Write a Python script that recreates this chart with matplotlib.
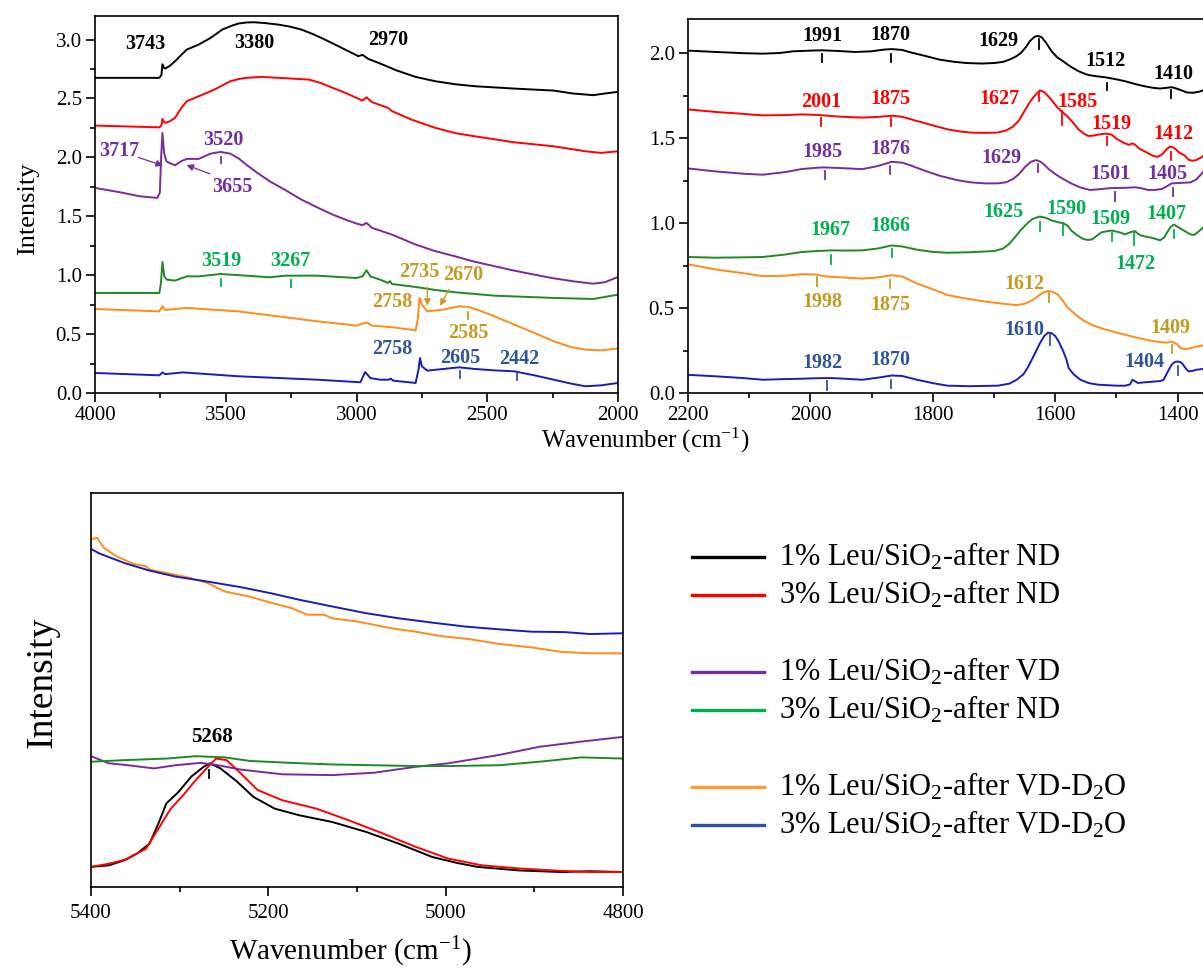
import matplotlib
matplotlib.use("Agg")
import matplotlib.pyplot as plt
from matplotlib.lines import Line2D
from matplotlib.ticker import MultipleLocator

plt.rcParams["font.family"] = ["Liberation Serif", "DejaVu Serif"]
plt.rcParams["mathtext.fontset"] = "custom"
plt.rcParams["mathtext.rm"] = "Liberation Serif"
plt.rcParams["mathtext.it"] = "Liberation Serif:italic"
plt.rcParams["mathtext.bf"] = "Liberation Serif:bold"

# ---------------------------------------------------------------- data
labels = [
    "1% Leu/SiO$_2$-after ND",
    "3% Leu/SiO$_2$-after ND",
    "1% Leu/SiO$_2$-after VD",
    "3% Leu/SiO$_2$-after ND",
    "1% Leu/SiO$_2$-after VD-D$_2$O",
    "3% Leu/SiO$_2$-after VD-D$_2$O",
]
line_colors = ["#000000", "#FF0000", "#7B2A9E", "#1E8B22", "#FF8C1A", "#1C1CB8"]
legend_colors = ["#000000", "#FF0000", "#7030A0", "#00B050", "#FF9A30", "#2E54A0"]
text_colors = ["#000000", "#FF0000", "#7030A0", "#00B050", "#C49A1E", "#2F5597"]

# high wavenumber region (4000-2000 cm-1)
hi_x = [
    [4000, 3754, 3746, 3742, 3736, 3732, 3715, 3694, 3670, 3649, 3603, 3558, 3513, 3480,
     3452, 3420, 3392, 3350, 3302, 3255, 3211, 3165, 3121, 3075, 3030, 2993, 2977, 2955,
     2910, 2849, 2774, 2698, 2620, 2548, 2397, 2246, 2171, 2095, 2050, 2000],
    [4000, 3754, 3746, 3742, 3736, 3732, 3715, 3694, 3670, 3649, 3603, 3543, 3483, 3450,
     3422, 3362, 3272, 3181, 3135, 3091, 3045, 3000, 2977, 2962, 2940, 2879, 2864, 2789,
     2698, 2620, 2548, 2397, 2246, 2125, 2065, 2000],
    [4000, 3905, 3830, 3762, 3752, 3747, 3742, 3736, 3727, 3716, 3694, 3671, 3649, 3603,
     3558, 3520, 3483, 3450, 3422, 3380, 3332, 3270, 3211, 3150, 3091, 3040, 3000, 2977,
     2962, 2940, 2864, 2774, 2700, 2623, 2550, 2472, 2400, 2321, 2250, 2171, 2095, 2050,
     2000],
    [4000, 3754, 3748, 3742, 3735, 3725, 3694, 3649, 3603, 3520, 3422, 3332, 3272, 3151,
     3000, 2977, 2962, 2947, 2910, 2879, 2872, 2864, 2774, 2700, 2623, 2472, 2246, 2095,
     2000],
    [4000, 3754, 3742, 3732, 3649, 3452, 3302, 3151, 3000, 2962, 2940, 2864, 2774, 2766,
     2759, 2750, 2729, 2668, 2608, 2570, 2530, 2472, 2397, 2320, 2246, 2180, 2125, 2065,
     2000],
    [4000, 3754, 3742, 3732, 3664, 3452, 3151, 2985, 2967, 2947, 2910, 2876, 2869, 2860,
     2774, 2763, 2757, 2750, 2729, 2668, 2608, 2548, 2472, 2397, 2320, 2246, 2180, 2125,
     2065, 2000],
]
hi_y = [
    [2.675, 2.675, 2.70, 2.79, 2.76, 2.754, 2.775, 2.816, 2.87, 2.915, 2.958, 3.014, 3.085,
     3.115, 3.136, 3.145, 3.147, 3.14, 3.128, 3.11, 3.085, 3.045, 3.0, 2.95, 2.90, 2.859,
     2.87, 2.836, 2.797, 2.74, 2.683, 2.646, 2.62, 2.604, 2.584, 2.567, 2.542, 2.528, 2.542,
     2.556],
    [2.27, 2.255, 2.27, 2.327, 2.30, 2.293, 2.305, 2.335, 2.42, 2.477, 2.519, 2.576, 2.646,
     2.665, 2.675, 2.683, 2.672, 2.66, 2.63, 2.59, 2.55, 2.505, 2.482, 2.51, 2.468, 2.42,
     2.392, 2.32, 2.25, 2.205, 2.179, 2.128, 2.094, 2.052, 2.038, 2.052],
    [1.741, 1.704, 1.67, 1.656, 1.70, 2.01, 2.208, 2.04, 1.967, 1.953, 1.933, 1.967, 1.987,
     1.987, 2.032, 2.046, 2.032, 1.99, 1.939, 1.87, 1.797, 1.72, 1.642, 1.575, 1.514, 1.47,
     1.438, 1.424, 1.444, 1.401, 1.344, 1.26, 1.205, 1.16, 1.115, 1.076, 1.04, 1.005, 0.975,
     0.948, 0.928, 0.94, 0.985],
    [0.849, 0.849, 0.93, 1.112, 0.99, 0.962, 0.954, 0.99, 0.99, 1.01, 0.996, 0.982, 0.996,
     0.996, 0.976, 0.99, 1.042, 0.99, 0.962, 0.934, 0.95, 0.925, 0.9, 0.875, 0.855, 0.826,
     0.807, 0.798, 0.835],
    [0.713, 0.693, 0.736, 0.705, 0.722, 0.693, 0.651, 0.609, 0.572, 0.6, 0.572, 0.558, 0.532,
     0.623, 0.807, 0.75, 0.693, 0.708, 0.736, 0.73, 0.70, 0.651, 0.58, 0.51, 0.439, 0.39,
     0.368, 0.362, 0.379],
    [0.17, 0.15, 0.175, 0.16, 0.175, 0.142, 0.113, 0.091, 0.178, 0.127, 0.113, 0.113, 0.122,
     0.105, 0.085, 0.198, 0.297, 0.226, 0.19, 0.204, 0.218, 0.204, 0.192, 0.184, 0.15,
     0.113, 0.08, 0.057, 0.065, 0.085],
]

# mid region (2200-1357 cm-1)
mid_x = [
    [2200, 2154, 2110, 2078, 2050, 2028, 2000, 1981, 1955, 1927, 1900, 1880, 1867, 1850,
     1839, 1815, 1789, 1765, 1745, 1720, 1700, 1685, 1675, 1665, 1656, 1648, 1641, 1634,
     1628, 1622, 1615, 1606, 1597, 1587, 1575, 1562, 1550, 1543, 1530, 1518, 1500, 1486,
     1470, 1455, 1440, 1429, 1418, 1410, 1403, 1395, 1385, 1375, 1365, 1355],
    [2200, 2154, 2110, 2078, 2040, 2015, 1990, 1978, 1950, 1915, 1890, 1867, 1850, 1826,
     1800, 1776, 1755, 1738, 1715, 1694, 1680, 1670, 1660, 1650, 1640, 1632, 1625, 1618,
     1610, 1602, 1596, 1588, 1581, 1572, 1562, 1553, 1546, 1538, 1530, 1518, 1508, 1499,
     1490, 1480, 1474, 1470, 1465, 1461, 1448, 1440, 1433, 1425, 1418, 1412, 1405, 1398,
     1389, 1382, 1376, 1370, 1362, 1355],
    [2200, 2154, 2110, 2078, 2040, 2015, 1990, 1978, 1950, 1915, 1890, 1867, 1850, 1839,
     1815, 1789, 1760, 1738, 1715, 1694, 1680, 1669, 1660, 1650, 1640, 1631, 1625, 1619,
     1610, 1600, 1590, 1574, 1560, 1543, 1524, 1510, 1499, 1485, 1470, 1460, 1448, 1436,
     1426, 1418, 1410, 1395, 1379, 1370, 1362, 1355],
    [2200, 2154, 2110, 2078, 2040, 2015, 1990, 1965, 1940, 1915, 1890, 1867, 1850, 1826,
     1800, 1776, 1740, 1700, 1685, 1675, 1665, 1656, 1645, 1637, 1625, 1615, 1606, 1596,
     1587, 1580, 1574, 1565, 1555, 1547, 1540, 1532, 1524, 1508, 1495, 1486, 1478, 1470,
     1466, 1461, 1450, 1442, 1435, 1429, 1422, 1417, 1412, 1406, 1399, 1392, 1385, 1379,
     1373, 1367, 1361, 1355],
    [2200, 2154, 2110, 2078, 2040, 2015, 1990, 1978, 1950, 1915, 1890, 1867, 1850, 1826,
     1800, 1776, 1745, 1713, 1685, 1663, 1650, 1637, 1628, 1620, 1612, 1605, 1596, 1588,
     1581, 1568, 1555, 1540, 1524, 1500, 1474, 1448, 1430, 1418, 1410, 1402, 1395, 1387,
     1379, 1367, 1355],
    [2200, 2154, 2110, 2078, 2040, 2015, 1990, 1965, 1940, 1915, 1890, 1867, 1850, 1826,
     1800, 1776, 1740, 1694, 1675, 1663, 1652, 1644, 1635, 1625, 1618, 1612, 1606, 1600,
     1594, 1588, 1582, 1578, 1570, 1559, 1545, 1530, 1500, 1486, 1478, 1474, 1470, 1465,
     1450, 1436, 1429, 1423, 1417, 1410, 1405, 1401, 1396, 1392, 1387, 1382, 1376, 1369,
     1362, 1355],
]
mid_y = [
    [2.014, 2.006, 1.999, 1.996, 2.0, 2.01, 2.014, 2.016, 2.012, 2.006, 2.01, 2.02, 2.023,
     2.018, 2.006, 1.985, 1.961, 1.948, 1.941, 1.938, 1.941, 1.948, 1.961, 1.978, 2.0,
     2.035, 2.072, 2.095, 2.101, 2.092, 2.06, 2.01, 1.975, 1.951, 1.92, 1.893, 1.875, 1.869,
     1.862, 1.857, 1.845, 1.834, 1.818, 1.805, 1.795, 1.791, 1.795, 1.799, 1.792, 1.782,
     1.768, 1.766, 1.772, 1.785],
    [1.668, 1.653, 1.642, 1.633, 1.635, 1.639, 1.636, 1.633, 1.625, 1.62, 1.624, 1.631,
     1.625, 1.6, 1.574, 1.551, 1.538, 1.532, 1.53, 1.532, 1.545, 1.565, 1.6, 1.66, 1.72,
     1.755, 1.78, 1.77, 1.74, 1.705, 1.678, 1.652, 1.629, 1.595, 1.551, 1.525, 1.512,
     1.514, 1.52, 1.526, 1.52, 1.493, 1.475, 1.46, 1.468, 1.462, 1.445, 1.434, 1.41, 1.395,
     1.389, 1.405, 1.435, 1.45, 1.44, 1.415, 1.398, 1.372, 1.366, 1.37, 1.385, 1.401],
    [1.321, 1.303, 1.29, 1.284, 1.3, 1.317, 1.325, 1.327, 1.323, 1.317, 1.335, 1.36, 1.355,
     1.342, 1.31, 1.278, 1.252, 1.239, 1.233, 1.233, 1.24, 1.259, 1.285, 1.327, 1.36, 1.37,
     1.362, 1.346, 1.315, 1.288, 1.265, 1.233, 1.21, 1.194, 1.2, 1.205, 1.206, 1.207, 1.21,
     1.205, 1.194, 1.195, 1.2, 1.215, 1.233, 1.236, 1.239, 1.255, 1.285, 1.317],
    [0.8, 0.796, 0.798, 0.8, 0.815, 0.829, 0.835, 0.839, 0.838, 0.839, 0.85, 0.868, 0.862,
     0.843, 0.83, 0.825, 0.828, 0.835, 0.85, 0.878, 0.92, 0.96, 1.0, 1.024, 1.038, 1.03,
     1.015, 1.005, 0.999, 0.985, 0.956, 0.93, 0.907, 0.9, 0.903, 0.925, 0.946, 0.956, 0.945,
     0.933, 0.945, 0.953, 0.94, 0.928, 0.918, 0.913, 0.905, 0.898, 0.915, 0.946, 0.975,
     0.991, 0.975, 0.96, 0.945, 0.933, 0.93, 0.946, 0.965, 0.985],
    [0.757, 0.726, 0.705, 0.687, 0.69, 0.699, 0.697, 0.687, 0.68, 0.673, 0.68, 0.693, 0.685,
     0.644, 0.61, 0.576, 0.555, 0.537, 0.525, 0.517, 0.525, 0.546, 0.57, 0.59, 0.6, 0.597,
     0.58, 0.545, 0.507, 0.465, 0.429, 0.4, 0.38, 0.355, 0.332, 0.31, 0.3, 0.296, 0.302,
     0.29, 0.263, 0.258, 0.263, 0.275, 0.283],
    [0.107, 0.098, 0.088, 0.078, 0.082, 0.084, 0.087, 0.088, 0.083, 0.078, 0.09, 0.103, 0.1,
     0.078, 0.058, 0.043, 0.04, 0.043, 0.055, 0.078, 0.11, 0.156, 0.22, 0.293, 0.335, 0.355,
     0.352, 0.335, 0.3, 0.254, 0.2, 0.146, 0.11, 0.078, 0.058, 0.049, 0.043, 0.043, 0.05,
     0.078, 0.07, 0.059, 0.064, 0.068, 0.07, 0.078, 0.12, 0.166, 0.182, 0.185, 0.183,
     0.171, 0.145, 0.127, 0.13, 0.137, 0.14, 0.146],
]

# NIR region (5400-4800 cm-1), arbitrary intensity
nir_x = [
    [5400, 5380, 5362, 5348, 5334, 5324, 5315, 5301, 5287, 5273, 5266, 5254, 5235, 5217,
     5193, 5165, 5128, 5090, 5053, 5015, 4987, 4964, 4917, 4870, 4837, 4800],
    [5400, 5380, 5362, 5338, 5324, 5310, 5296, 5282, 5268, 5259, 5247, 5231, 5212, 5184,
     5146, 5109, 5071, 5034, 4997, 4959, 4917, 4870, 4837, 4800],
    [5400, 5380, 5362, 5329, 5305, 5277, 5259, 5231, 5184, 5128, 5081, 5034, 4997, 4940,
     4894, 4847, 4800],
    [5400, 5362, 5315, 5282, 5249, 5221, 5174, 5128, 5081, 5034, 4997, 4940, 4894, 4847,
     4800],
    [5400, 5393, 5385, 5371, 5352, 5338, 5334, 5315, 5291, 5268, 5249, 5221, 5198, 5174,
     5156, 5137, 5128, 5100, 5062, 5034, 5006, 4973, 4940, 4903, 4870, 4837, 4800],
    [5400, 5390, 5362, 5334, 5305, 5268, 5231, 5198, 5165, 5128, 5090, 5053, 5015, 4978,
     4940, 4903, 4866, 4837, 4800],
]
nir_y = [
    [0.051, 0.055, 0.068, 0.085, 0.11, 0.161, 0.212, 0.242, 0.28, 0.305, 0.314, 0.301,
     0.267, 0.229, 0.199, 0.182, 0.165, 0.14, 0.11, 0.076, 0.061, 0.051, 0.042, 0.038,
     0.040, 0.038],
    [0.051, 0.059, 0.069, 0.097, 0.148, 0.199, 0.233, 0.271, 0.305, 0.326, 0.322, 0.288,
     0.246, 0.22, 0.199, 0.169, 0.136, 0.102, 0.072, 0.055, 0.047, 0.041, 0.038, 0.038],
    [0.332, 0.314, 0.31, 0.301, 0.309, 0.315, 0.31, 0.298, 0.286, 0.284, 0.29, 0.305,
     0.314, 0.335, 0.356, 0.369, 0.381],
    [0.318, 0.322, 0.326, 0.332, 0.329, 0.32, 0.315, 0.311, 0.309, 0.307, 0.307, 0.309,
     0.318, 0.329, 0.326],
    [0.883, 0.886, 0.86, 0.839, 0.82, 0.814, 0.806, 0.797, 0.786, 0.771, 0.75, 0.737,
     0.722, 0.708, 0.691, 0.691, 0.682, 0.674, 0.657, 0.648, 0.637, 0.629, 0.617, 0.608,
     0.597, 0.593, 0.593],
    [0.858, 0.846, 0.822, 0.803, 0.788, 0.775, 0.761, 0.746, 0.729, 0.712, 0.695, 0.682,
     0.671, 0.661, 0.654, 0.648, 0.647, 0.642, 0.644],
]

# peak labels: (text, x_text, y_text, x_tick, tick_lo, tick_hi, series index)
hi_peaks = [
    ("3743", 3807, 2.96, None, None, None, 0),
    ("3380", 3392, 2.97, None, None, None, 0),
    ("2970", 2879, 3.0, None, None, None, 0),
    ("3717", 3908, 2.05, None, None, None, 2),
    ("3520", 3510, 2.15, 3517, 1.95, 2.00, 2),
    ("3655", 3475, 1.75, None, None, None, 2),
    ("3519", 3517, 1.12, 3517, 0.91, 0.97, 3),
    ("3267", 3252, 1.12, 3250, 0.90, 0.96, 3),
    ("2735", 2759, 1.03, None, None, None, 4),
    ("2670", 2593, 1.005, None, None, None, 4),
    ("2758", 2864, 0.77, None, None, None, 4),
    ("2585", 2573, 0.51, 2573, 0.625, 0.69, 4),
    ("2758", 2864, 0.37, None, None, None, 5),
    ("2605", 2605, 0.30, 2605, 0.13, 0.19, 5),
    ("2442", 2377, 0.285, 2386, 0.11, 0.17, 5),
]
# arrows: (x_from, y_from, x_to, y_to, series index)
hi_arrows = [
    (3835, 2.0, 3740, 1.93, 2),
    (3560, 1.86, 3650, 1.935, 2),
    (2729, 0.90, 2729, 0.74, 4),
    (2646, 0.88, 2680, 0.74, 4),
]
mid_peaks = [
    ("1991", 1981, 2.098, 1981, 1.95, 1.995, 0),
    ("1870", 1870, 2.107, 1868, 1.95, 1.995, 0),
    ("1629", 1693, 2.068, 1627, 2.025, 2.08, 0),
    ("1512", 1518, 1.951, 1516, 1.78, 1.825, 0),
    ("1410", 1407, 1.877, 1411, 1.733, 1.785, 0),
    ("2001", 1983, 1.713, 1983, 1.571, 1.62, 1),
    ("1875", 1870, 1.727, 1868, 1.571, 1.62, 1),
    ("1627", 1691, 1.727, 1627, 1.72, 1.765, 1),
    ("1585", 1563, 1.713, 1589, 1.577, 1.659, 1),
    ("1519", 1508, 1.584, 1516, 1.46, 1.503, 1),
    ("1412", 1407, 1.526, 1411, 1.37, 1.42, 1),
    ("1985", 1980, 1.415, 1976, 1.259, 1.307, 2),
    ("1876", 1870, 1.434, 1870, 1.29, 1.335, 2),
    ("1629", 1688, 1.385, 1629, 1.298, 1.345, 2),
    ("1501", 1510, 1.288, 1502, 1.131, 1.18, 2),
    ("1405", 1417, 1.288, 1407, 1.159, 1.205, 2),
    ("1967", 1967, 0.956, 1967, 0.761, 0.81, 3),
    ("1866", 1870, 0.985, 1867, 0.802, 0.847, 3),
    ("1625", 1685, 1.063, 1625, 0.955, 1.003, 3),
    ("1590", 1582, 1.083, 1587, 0.927, 0.99, 3),
    ("1509", 1510, 1.024, 1508, 0.894, 0.941, 3),
    ("1472", 1469, 0.761, 1471, 0.868, 0.946, 3),
    ("1407", 1419, 1.054, 1406, 0.913, 0.956, 3),
    ("1998", 1980, 0.537, 1989, 0.628, 0.683, 4),
    ("1875", 1870, 0.517, 1870, 0.619, 0.666, 4),
    ("1612", 1650, 0.644, 1610, 0.537, 0.588, 4),
    ("1409", 1412, 0.38, 1409, 0.234, 0.283, 4),
    ("1982", 1980, 0.176, 1973, 0.02, 0.068, 5),
    ("1870", 1870, 0.195, 1868, 0.029, 0.078, 5),
    ("1610", 1650, 0.37, 1609, 0.283, 0.341, 5),
    ("1404", 1455, 0.185, 1400, 0.107, 0.156, 5),
]
nir_peaks = [("5268", 5264, 0.381, 5267, 0.277, 0.298, 0)]

# ---------------------------------------------------------------- figure
W, H = 1203, 976
fig = plt.figure(figsize=(W / 100, H / 100), dpi=100)


def px_axes(left, top, right, bottom):
    return fig.add_axes([left / W, 1 - bottom / H, (right - left) / W, (bottom - top) / H])


def style(ax, xmaj, xmin, ymaj=None, ymin=None):
    ax.xaxis.set_major_locator(MultipleLocator(xmaj))
    ax.xaxis.set_minor_locator(MultipleLocator(xmin))
    if ymaj:
        ax.yaxis.set_major_locator(MultipleLocator(ymaj))
        ax.yaxis.set_minor_locator(MultipleLocator(ymin))
        ax.yaxis.set_major_formatter(plt.FormatStrFormatter("%.1f"))
    else:
        ax.set_yticks([])
    ax.tick_params(which="major", direction="out", length=6.5, width=1.2,
                   labelsize=15, top=False, right=False, pad=3)
    ax.tick_params(which="minor", direction="out", length=3.5, width=1.2,
                   top=False, right=False)
    for s in ax.spines.values():
        s.set_linewidth(1.2)


def annotate(ax, peaks, size=14.5):
    for txt, xt, yt, xk, y0, y1, i in peaks:
        c = text_colors[i]
        ax.text(xt, yt, txt, color=c, fontsize=size, fontweight="bold",
                ha="center", va="center")
        if xk is not None:
            ax.plot([xk, xk], [y0, y1], color=c, lw=1.3)


# top-left
ax1 = px_axes(95, 16, 618, 393)
for i in range(6):
    ax1.plot(hi_x[i], hi_y[i], color=line_colors[i], lw=1.4)
ax1.set_xlim(4000, 2000)
ax1.set_ylim(0, 3.2)
style(ax1, 500, 250, 0.5, 0.25)
annotate(ax1, hi_peaks)
for x0, y0, x1, y1, i in hi_arrows:
    ax1.annotate("", xy=(x1, y1), xytext=(x0, y0),
                 arrowprops=dict(arrowstyle="-|>", color=text_colors[i], lw=0.9,
                                 mutation_scale=10, shrinkA=0, shrinkB=0))

# top-right
ax2 = px_axes(688, 19, W + 1, 393)
for i in range(6):
    ax2.plot(mid_x[i], mid_y[i], color=line_colors[i], lw=1.4)
ax2.set_xlim(2200, 1357)
ax2.set_ylim(0, 2.2)
style(ax2, 200, 100, 0.5, 0.25)
ax2.spines["right"].set_visible(False)
annotate(ax2, mid_peaks)

fig.text(28 / W, 1 - 209 / H, "Intensity", rotation=90, fontsize=19,
         ha="center", va="center")
fig.text(645 / W, 1 - 440 / H, "Wavenumber (cm$^{-1}$)", fontsize=18,
         ha="center", va="center")

# bottom-left
ax3 = px_axes(91, 493, 623, 887)
for i in range(6):
    ax3.plot(nir_x[i], nir_y[i], color=line_colors[i], lw=1.4)
ax3.set_xlim(5400, 4800)
ax3.set_ylim(0, 1)
style(ax3, 200, 100)
ax3.tick_params(axis="x", pad=6)
annotate(ax3, nir_peaks, size=15)
fig.text(42 / W, 1 - 682 / H, "Intensity", rotation=90, fontsize=27,
         ha="center", va="center")
fig.text(350 / W, 1 - 952 / H, "Wavenumber (cm$^{-1}$)", fontsize=21,
         ha="center", va="center")

# legend
rows = [557, 595, 672, 710, 787, 825]
for i, yr in enumerate(rows):
    fig.add_artist(Line2D([692 / W, 764 / W], [1 - yr / H, 1 - yr / H],
                          color=legend_colors[i], lw=2.4))
    fig.text(779 / W, 1 - yr / H, labels[i], fontsize=22, ha="left", va="center")

fig.savefig("out.png", dpi=100)
